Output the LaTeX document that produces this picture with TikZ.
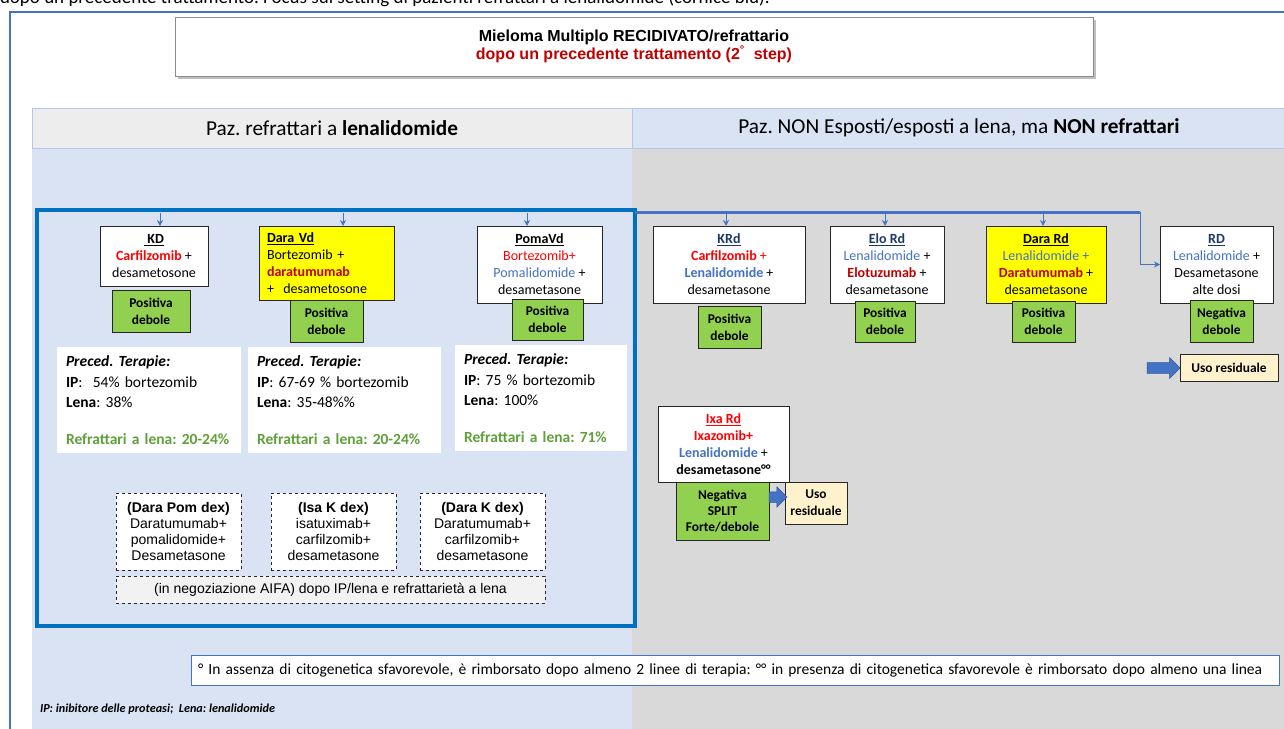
\documentclass[tikz,border=0pt]{standalone}
\usepackage{fontspec}
\setmainfont{Carlito}
\newfontfamily\arial{Liberation Sans}
\usetikzlibrary{shapes.arrows,arrows.meta}
\definecolor{outerblue}{HTML}{4472C4}
\definecolor{frameblue}{HTML}{0070C0}
\definecolor{lblue}{HTML}{DAE3F3}
\definecolor{lgray}{HTML}{D9D9D9}
\definecolor{hgray}{HTML}{EDEDED}
\definecolor{hborder}{HTML}{B4C7E7}
\definecolor{grnfill}{HTML}{92D050}
\definecolor{yel}{HTML}{FFFF00}
\definecolor{cream}{HTML}{FFF2CC}
\definecolor{rd}{HTML}{FF0000}
\definecolor{drd}{HTML}{C00000}
\definecolor{bl}{HTML}{4472C4}
\definecolor{navy}{HTML}{1F3864}
\definecolor{grtxt}{HTML}{5FA03A}
\definecolor{dashfill}{HTML}{F2F2F2}
\frenchspacing
\tikzset{
  every node/.style={inner sep=0pt, outer sep=0pt},
  drug/.style={draw=black!85, line width=0.9pt, fill=white, anchor=north west, align=center, font=\fontsize{14}{17}\selectfont},
  grn/.style={draw=black!85, line width=0.9pt, fill=grnfill, anchor=north west, align=center, font=\bfseries\fontsize{13.4}{17}\selectfont},
  prec/.style={fill=white, anchor=north west, align=left, inner xsep=9pt, inner ysep=6pt, font=\fontsize{15.5}{20.5}\selectfont},
  dbox/.style={draw=black!85, dashed, line width=0.8pt, fill=white, anchor=north west, align=center, font=\arial\fontsize{14}{16.3}\selectfont},
  uso/.style={draw=black!85, line width=0.9pt, fill=cream, anchor=north west, align=center, font=\bfseries\fontsize{13.4}{17}\selectfont},
  tarr/.style={draw=outerblue, line width=0.9pt, -{Stealth[length=6pt,width=6pt]}},
  bus/.style={draw=outerblue, line width=3pt},
  barrow/.style={single arrow, fill=outerblue, draw=outerblue!75!black, line width=0.5pt, inner xsep=0pt, inner ysep=5pt, single arrow head extend=5pt, anchor=west},
  hdr/.style={anchor=north west, draw=hborder, line width=1pt, font=\fontsize{21.3}{24}\selectfont}
}
\begin{document}
\begin{tikzpicture}[x=1pt,y=-1pt]
\useasboundingbox (0,0) rectangle (1284,728);
\clip (0,0) rectangle (1284,728);
\fill[white] (0,0) rectangle (1284,728);
% cut-off caption at very top
\node[anchor=base west, font=\fontsize{19}{22}\selectfont] (cut) at (0,3) {dopo un precedente trattamento. Focus sul setting di pazienti refrattari a lenalidomide (cornice blu).};
% column backgrounds
\fill[lblue] (32,148) rectangle (632,740);
\fill[lgray] (632,148) rectangle (1300,740);
% outer frame
\draw[outerblue, line width=2pt] (10,740) -- (10,12) -- (1300,12);
% title
\fill[black!25] (178,20) rectangle (1096,79);
\node[draw=black!45, line width=1pt, fill=white, anchor=north west, minimum width=918, minimum height=59, align=center, font=\arial\bfseries\fontsize{16}{17}\selectfont] (title) at (175,17)
  {Mieloma Multiplo RECIDIVATO/refrattario\\ \textcolor{drd}{dopo un precedente trattamento (2\textsuperscript{°}~ step)}};
% headers
\node[hdr, fill=hgray, minimum width=600, minimum height=40] (hL) at (32,108) {Paz. refrattari a \textbf{lenalidomide}};
\node[hdr, fill=lblue, minimum width=654, minimum height=40] (hR) at (632,108) {Paz. NON Esposti/esposti a lena, ma \textbf{NON refrattari}};
% big frame
\node[draw=frameblue, line width=4pt, anchor=north west, minimum width=598, minimum height=416] (frame) at (37,210) {};
\coordinate (busW) at (635,212);
\coordinate (busE) at (1140,212);
\draw[bus] (busW) -- (busE);

% left drug boxes
\node[drug, minimum width=108, minimum height=60] (kd) at (100,226)
  {\underline{\textbf{ KD}}\\ \textcolor{rd}{\textbf{Carfilzomib}} +\\ desametosone};
\node[drug, fill=yel, text width=119pt, inner xsep=8pt, minimum height=74, align=left] (daravd) at (259,226)
  {\underline{\textbf{Dara Vd}}\\ Bortezomib +\\ \textcolor{drd}{\textbf{daratumumab}}\\ +~ desametosone};
\node[drug, minimum width=125, minimum height=77] (pomavd) at (477,226)
  {\underline{\textbf{PomaVd}}\\ \textcolor{rd}{Bortezomib+}\\ \textcolor{bl}{Pomalidomide} +\\ desametasone};
\node[grn, minimum width=78, minimum height=42] (gkd) at (112,290) {Positiva\\ debole};
\node[grn, minimum width=73, minimum height=42] (gdaravd) at (290,300) {Positiva\\ debole};
\node[grn, minimum width=71, minimum height=41] (gpomavd) at (512,299) {Positiva\\ debole};

% arrows from bus (left)
\coordinate (a1) at (160,213);
\coordinate (a2) at (343,213);
\coordinate (a3) at (527,213);
\draw[tarr] (a1) -- (a1 |- kd.north);
\draw[tarr] (a2) -- (a2 |- daravd.north);
\draw[tarr] (a3) -- (a3 |- pomavd.north);

% preced boxes
\node[prec, text width=166pt, minimum height=106] (p1) at (57,347)
  {\textbf{\textit{Preced. Terapie:}}\\ \textbf{IP}:~ 54\% bortezomib\\ \textbf{Lena}: 38\%\\[16pt] \textcolor{grtxt}{\textbf{Refrattari a lena: 20-24\%}}};
\node[prec, text width=175pt, minimum height=106] (p2) at (248,347)
  {\textbf{\textit{Preced. Terapie:}}\\ \textbf{IP}: 67-69 \% bortezomib\\ \textbf{Lena}: 35-48\%\%\\[16pt] \textcolor{grtxt}{\textbf{Refrattari a lena: 20-24\%}}};
\node[prec, text width=154pt, minimum height=106] (p3) at (455,345)
  {\textbf{\textit{Preced. Terapie:}}\\ \textbf{IP}: 75 \% bortezomib\\ \textbf{Lena}: 100\%\\[16pt] \textcolor{grtxt}{\textbf{Refrattari a lena: 71\%}}};

% dashed boxes
\node[dbox, minimum width=125, minimum height=77] (d1) at (116,493)
  {\textbf{(Dara Pom dex)}\\ Daratumumab+\\ pomalidomide+\\ Desametasone};
\node[dbox, minimum width=125, minimum height=77] (d2) at (271,493)
  {\textbf{(Isa K dex)}\\ isatuximab+\\ carfilzomib+\\ desametasone};
\node[dbox, minimum width=125, minimum height=77] (d3) at (420,493)
  {\textbf{(Dara K dex)}\\ Daratumumab+\\ carfilzomib+\\ desametasone};
\node[dbox, fill=dashfill, minimum width=429, minimum height=27] (neg) at (116,576)
  {(in negoziazione AIFA) dopo IP/lena e refrattariet\`a a lena};

% right drug boxes
\node[drug, minimum width=152, minimum height=77] (krd) at (653,226)
  {\textcolor{navy}{\underline{\textbf{KRd}}}\\ \textcolor{rd}{\textbf{Carfilzomib} +}\\ \textcolor{bl}{\textbf{Lenalidomide}} +\\ desametasone};
\node[drug, minimum width=114, minimum height=77] (elord) at (830,226)
  {\textcolor{navy}{\underline{\textbf{Elo Rd}}}\\ \textcolor{bl}{Lenalidomide} +\\ \textcolor{drd}{\textbf{Elotuzumab}} +\\ desametasone};
\node[drug, fill=yel, minimum width=120, minimum height=77] (darard) at (986,226)
  {\underline{\textbf{Dara Rd}}\\ \textcolor{bl}{Lenalidomide +}\\ \textcolor{drd}{\textbf{Daratumumab}} +\\ desametasone};
\node[drug, minimum width=113, minimum height=77] (rdb) at (1160,226)
  {\textcolor{navy}{\underline{\textbf{RD}}}\\ \textcolor{bl}{Lenalidomide} +\\ Desametasone\\ alte dosi};
\node[grn, minimum width=63, minimum height=42] (gkrd) at (698,306) {Positiva\\ debole};
\node[grn, minimum width=60, minimum height=41] (gelord) at (855,301) {Positiva\\ debole};
\node[grn, minimum width=63, minimum height=41] (gdarard) at (1012,301) {Positiva\\ debole};
\node[grn, minimum width=63, minimum height=42] (grdb) at (1190,300) {Negativa\\ debole};

% arrows from bus (right)
\coordinate (a4) at (726,213);
\coordinate (a5) at (885,213);
\coordinate (a6) at (1043,213);
\draw[tarr] (a4) -- (a4 |- krd.north);
\draw[tarr] (a5) -- (a5 |- elord.north);
\draw[tarr] (a6) -- (a6 |- darard.north);
\draw[tarr] (busE) |- (rdb.west);

% uso residuale (top right)
\node[uso, minimum width=98, minimum height=27] (uso1) at (1180,354) {Uso residuale};
\node[barrow, minimum height=33pt, minimum width=21pt] (ba1) at (1147,368) {};

% Ixa Rd
\node[drug, minimum width=131, minimum height=76] (ixa) at (658,406)
  {\textcolor{rd}{\underline{\textbf{Ixa Rd}}}\\ \textcolor{rd}{\textbf{Ixazomib+}}\\ \textcolor{bl}{\textbf{Lenalidomide}} +\\ \textbf{desametasone°°}};
\node[grn, font=\bfseries\fontsize{13.4}{16}\selectfont, minimum width=93, minimum height=58] (gixa) at (676,482) {Negativa\\ SPLIT\\ Forte/debole};
\node[uso, minimum width=62, minimum height=42] (uso2) at (785,482) {Uso\\ residuale};
\node[barrow, minimum height=18pt, minimum width=20pt] (ba2) at (769,497) {};

% footnote
\node[draw=outerblue, line width=1pt, fill=white, anchor=north west, minimum width=1088, minimum height=30, align=left, font=\fontsize{15.5}{17}\selectfont, inner xsep=7pt, text width=1074pt] (fn) at (191,655)
  {° In assenza di citogenetica sfavorevole, è rimborsato dopo almeno 2 linee di terapia: °° in presenza di citogenetica sfavorevole è rimborsato dopo almeno una linea};
\node[anchor=base west, font=\bfseries\itshape\fontsize{12.2}{13}\selectfont] (leg) at (40,712) {IP: inibitore delle proteasi;~ Lena: lenalidomide};
\end{tikzpicture}
\end{document}
